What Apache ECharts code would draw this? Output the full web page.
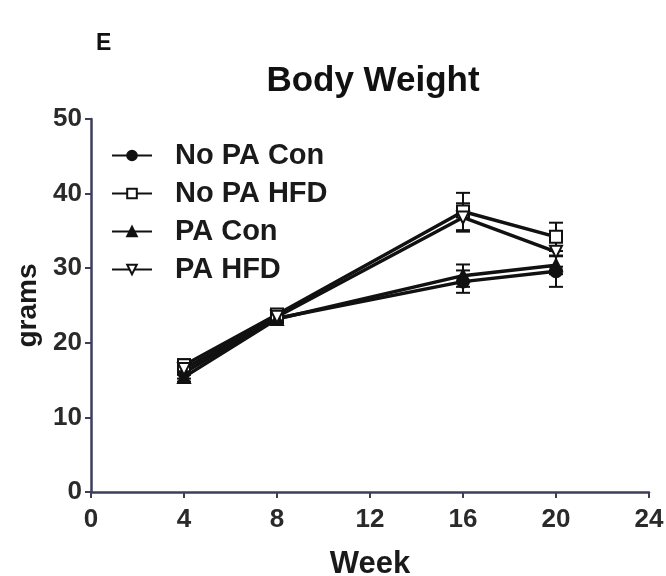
<!DOCTYPE html>
<html>
<head>
<meta charset="utf-8">
<script src="https://cdn.jsdelivr.net/npm/echarts@6/dist/echarts.min.js"></script>
<style>
  html, body { margin: 0; padding: 0; background: #fff; }
  #chart { width: 666px; height: 576px; }
</style>
</head>
<body>
<div id="chart"></div>
<script>
// Body weight (grams) per group, mean ± SEM at each week
const weeks = [4, 8, 16, 20];
const seriesNames = ['No PA Con', 'No PA HFD', 'PA Con', 'PA HFD'];
const noPaCon = [16.0, 23.3, 28.2, 29.6];
const noPaConErr = [0.8, 0.6, 1.5, 2.1];
const noPaHfd = [17.0, 23.8, 37.6, 34.2];
const noPaHfdErr = [0.8, 0.6, 2.5, 1.9];
const paCon = [15.4, 23.2, 29.0, 30.4];
const paConErr = [0.6, 0.6, 1.5, 1.2];
const paHfd = [16.5, 23.5, 36.8, 32.2];
const paHfdErr = [0.8, 0.6, 1.9, 2.0];
const xTicks = [0, 4, 8, 12, 16, 20, 24];
const yTicks = [0, 10, 20, 30, 40, 50];

const groups = [
  { name: seriesNames[0], values: noPaCon, err: noPaConErr, symbol: 'circle', rotate: 0, fill: '#111' },
  { name: seriesNames[1], values: noPaHfd, err: noPaHfdErr, symbol: 'rect', rotate: 0, fill: '#fff' },
  { name: seriesNames[2], values: paCon, err: paConErr, symbol: 'triangle', rotate: 0, fill: '#111' },
  { name: seriesNames[3], values: paHfd, err: paHfdErr, symbol: 'triangle', rotate: 180, fill: '#fff' }
];

const axisColor = '#3d3d5c';
const textColor = '#1a1a1a';
const fontFam = '"Liberation Sans", Arial, sans-serif';

const series = [];
groups.forEach(function (g) {
  // error bars with caps (kept out of the legend)
  series.push({
    type: 'custom',
    name: g.name + ' SEM',
    z: 3,
    data: weeks.map(function (w, i) { return [w, g.values[i] - g.err[i], g.values[i] + g.err[i]]; }),
    renderItem: function (params, api) {
      const lo = api.coord([api.value(0), api.value(1)]);
      const hi = api.coord([api.value(0), api.value(2)]);
      const cap = 7;
      const style = { stroke: '#111', lineWidth: 2 };
      return {
        type: 'group',
        children: [
          { type: 'line', shape: { x1: lo[0], y1: lo[1], x2: hi[0], y2: hi[1] }, style: style },
          { type: 'line', shape: { x1: lo[0] - cap, y1: lo[1], x2: lo[0] + cap, y2: lo[1] }, style: style },
          { type: 'line', shape: { x1: hi[0] - cap, y1: hi[1], x2: hi[0] + cap, y2: hi[1] }, style: style }
        ]
      };
    }
  });
  series.push({
    type: 'line',
    name: g.name,
    z: 4,
    data: weeks.map(function (w, i) { return [w, g.values[i]]; }),
    symbol: g.symbol,
    symbolSize: 12,
    symbolRotate: g.rotate,
    showAllSymbol: true,
    lineStyle: { color: '#111', width: 3.5 },
    itemStyle: { color: g.fill, borderColor: '#111', borderWidth: 2 }
  });
});

const chart = echarts.init(document.getElementById('chart'), null, { renderer: 'canvas' });
chart.setOption({
  animation: false,
  backgroundColor: '#fff',
  title: [
    {
      text: 'E', left: 91, top: 27,
      textStyle: { fontFamily: fontFam, fontWeight: 'bold', fontSize: 23, color: '#111' }
    },
    {
      text: 'Body Weight', left: 368, top: 59, textAlign: 'center',
      textStyle: { fontFamily: fontFam, fontWeight: 'bold', fontSize: 35, color: '#111' }
    }
  ],
  legend: {
    orient: 'vertical',
    left: 106,
    top: 136,
    itemWidth: 40,
    itemHeight: 12,
    itemGap: 9,
    data: seriesNames,
    textStyle: {
      fontFamily: fontFam, fontWeight: 'bold', fontSize: 29, lineHeight: 28,
      color: textColor, padding: [0, 0, 0, 18]
    }
  },
  grid: { left: 91, right: 17, top: 119, bottom: 84, outerBoundsMode: 'none' },
  xAxis: {
    type: 'value',
    min: xTicks[0],
    max: xTicks[xTicks.length - 1],
    interval: 4,
    name: 'Week',
    nameLocation: 'middle',
    nameGap: 57,
    nameTextStyle: { fontFamily: fontFam, fontWeight: 'bold', fontSize: 31, color: textColor },
    axisLine: { lineStyle: { color: axisColor, width: 2.5 } },
    axisTick: { show: true, length: 6, lineStyle: { color: axisColor, width: 2 } },
    axisLabel: { fontFamily: fontFam, fontWeight: 'bold', fontSize: 26, color: '#2a2a2a', margin: 15 },
    splitLine: { show: false }
  },
  yAxis: {
    type: 'value',
    min: yTicks[0],
    max: yTicks[yTicks.length - 1],
    interval: 10,
    name: 'grams',
    nameLocation: 'middle',
    nameGap: 40,
    nameTextStyle: { fontFamily: fontFam, fontWeight: 'bold', fontSize: 28, color: textColor },
    axisLine: { show: true, lineStyle: { color: axisColor, width: 2.5 } },
    axisTick: { show: true, length: 6, lineStyle: { color: axisColor, width: 2 } },
    axisLabel: { fontFamily: fontFam, fontWeight: 'bold', fontSize: 26, color: '#2a2a2a', margin: 9 },
    splitLine: { show: false }
  },
  series: series
});
</script>
</body>
</html>
